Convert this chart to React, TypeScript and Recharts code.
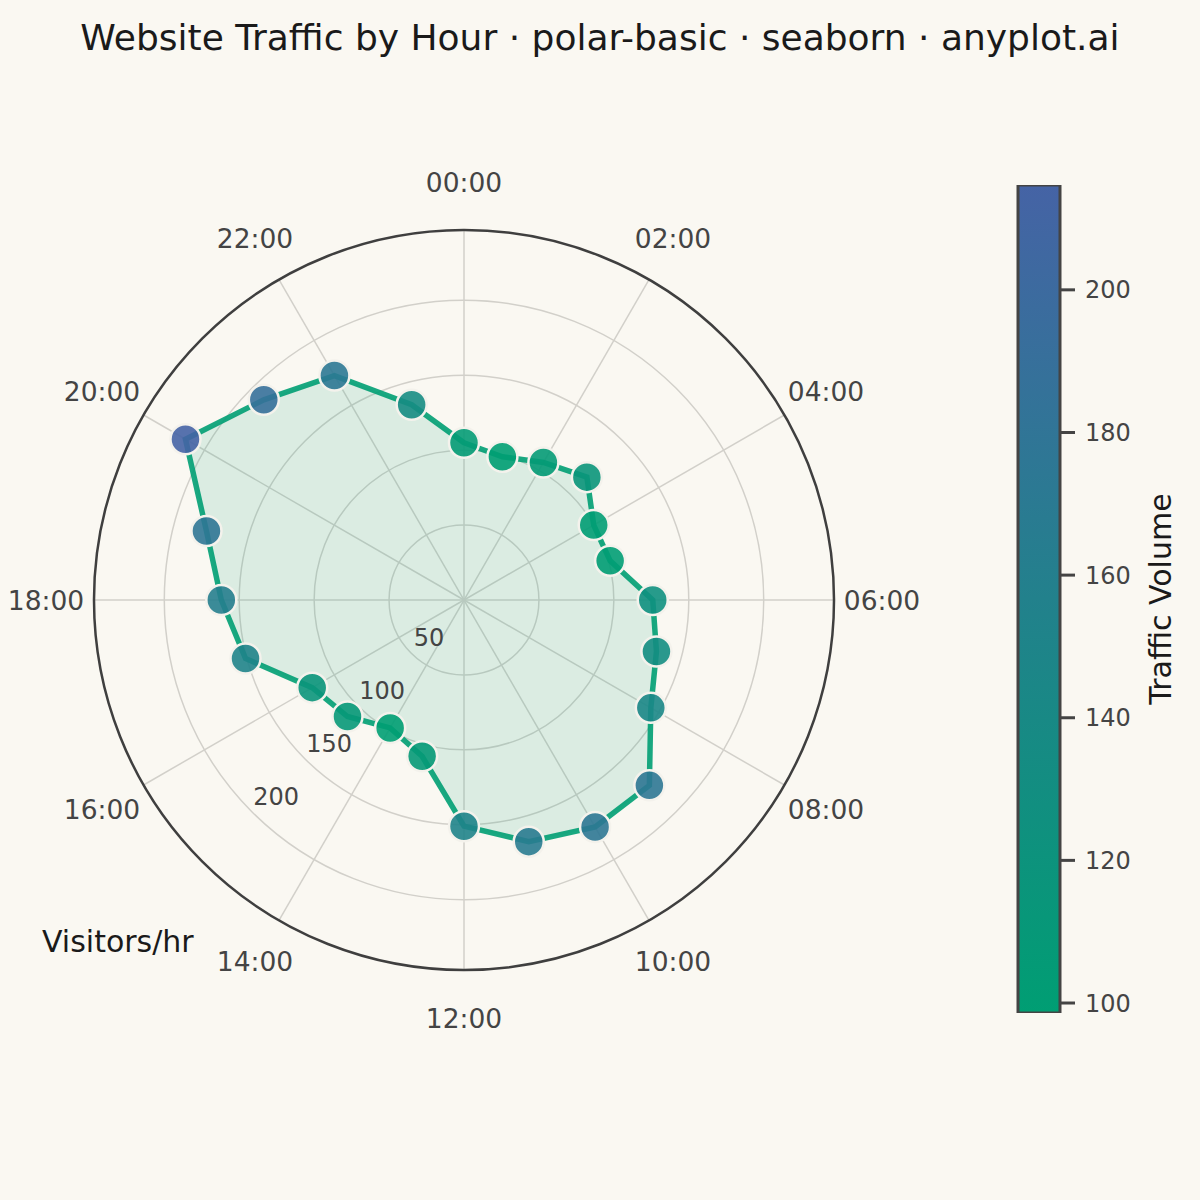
import {
  RadarChart,
  Radar,
  PolarGrid,
  PolarAngleAxis,
  PolarRadiusAxis,
  BarChart,
  Bar,
  XAxis,
  YAxis,
} from 'recharts'

const HOURS = [
  '00:00', '01:00', '02:00', '03:00', '04:00', '05:00',
  '06:00', '07:00', '08:00', '09:00', '10:00', '11:00',
  '12:00', '13:00', '14:00', '15:00', '16:00', '17:00',
  '18:00', '19:00', '20:00', '21:00', '22:00', '23:00',
]
const VISITORS = [
  105, 99, 106, 116, 100, 101, 126, 133, 144, 175, 175, 167,
  151, 108, 98.6, 110, 117, 151, 162, 178, 214.7, 189, 173, 135,
]
const RADIAL_TICKS = [50, 100, 150, 200]
const CB_TICKS = [100, 120, 140, 160, 180, 200]

const BG = '#FAF8F2'
const FONT = '"DejaVu Sans", sans-serif'
const LOW = [0, 158, 115]
const HIGH = [69, 99, 165]

const CB_MIN = Math.min(...VISITORS)
const CB_MAX = Math.max(...VISITORS)
const RMAX = CB_MAX * 1.15
const OUTER = 370
const CX = 464
const CY = 600
const LABEL_R = 418

const data = HOURS.map((hour, i) => ({ hour, visitors: VISITORS[i] }))
const cbData = [{ k: 'cb', range: [CB_MIN, CB_MAX] }]

function colorFor(v: number) {
  const t = Math.max(0, Math.min(1, (v - CB_MIN) / (CB_MAX - CB_MIN)))
  const c = LOW.map((l, i) => Math.round(l + (HIGH[i] - l) * t))
  return `rgb(${c[0]},${c[1]},${c[2]})`
}

// spokes every 2 hours, circles at the radial ticks
const spokeAngles = HOURS.map((_, i) => 90 - i * 15).filter((_, i) => i % 2 === 0)
const gridRadii = RADIAL_TICKS.map((v) => (v / RMAX) * OUTER)

function AngleTick(props: any) {
  const { payload, index } = props
  if (index % 2 !== 0) return <g />
  const cx = typeof props.cx === 'number' ? props.cx : CX
  const cy = typeof props.cy === 'number' ? props.cy : CY
  const rad = (-payload.coordinate * Math.PI) / 180
  return (
    <text
      x={cx + LABEL_R * Math.cos(rad)}
      y={cy + LABEL_R * Math.sin(rad)}
      textAnchor="middle"
      dominantBaseline="central"
      fontSize={26.5}
      fill="#444444"
      fontFamily={FONT}
    >
      {payload.value}
    </text>
  )
}

function RadiusTick(props: any) {
  const { x, y, payload } = props
  if (!RADIAL_TICKS.includes(payload.value)) return <g />
  const dx = payload.value === 50 ? 18 : 24
  return (
    <text
      x={x + dx}
      y={y - 15}
      textAnchor="middle"
      dominantBaseline="central"
      fontSize={24}
      fill="#444444"
      fontFamily={FONT}
    >
      {payload.value}
    </text>
  )
}

function Dot(props: any) {
  const { cx, cy, payload, index } = props
  return (
    <circle
      key={`dot-${index}`}
      cx={cx}
      cy={cy}
      r={15}
      fill={colorFor(payload.visitors)}
      fillOpacity={0.9}
      stroke="#F4F2EC"
      strokeWidth={2.5}
    />
  )
}

function CbLabel(props: any) {
  const vb = props.viewBox || {}
  const x = (vb.x ?? 0) + 100
  const y = (vb.y ?? 0) + (vb.height ?? 0) / 2
  return (
    <text
      x={x}
      y={y}
      transform={`rotate(-90 ${x} ${y})`}
      textAnchor="middle"
      dominantBaseline="central"
      fontSize={30}
      fill="#1a1a1a"
      fontFamily={FONT}
    >
      Traffic Volume
    </text>
  )
}

export default function App() {
  return (
    <div style={{ width: 1200, height: 1200, background: BG, position: 'relative', fontFamily: FONT }}>
      <style>{'body{margin:0}'}</style>
      <div
        style={{
          position: 'absolute',
          top: 17,
          left: 0,
          width: 1200,
          textAlign: 'center',
          fontSize: 36,
          color: '#1a1a1a',
          whiteSpace: 'nowrap',
        }}
      >
        Website Traffic by Hour · polar-basic · seaborn · anyplot.ai
      </div>

      <div style={{ position: 'absolute', left: 0, top: 0 }}>
        <RadarChart
          width={CX * 2}
          height={CY * 2}
          data={data}
          outerRadius={OUTER}
          margin={{ top: 0, right: 0, bottom: 0, left: 0 }}
        >
          <PolarGrid
            gridType="circle"
            polarAngles={spokeAngles}
            polarRadius={gridRadii}
            stroke="#d2d0ca"
            strokeWidth={1.5}
          />
          <PolarGrid
            gridType="circle"
            radialLines={false}
            polarAngles={[]}
            polarRadius={[OUTER]}
            stroke="#3f3f3f"
            strokeWidth={2.5}
          />
          <PolarAngleAxis dataKey="hour" tick={<AngleTick />} axisLine={false} tickLine={false} />
          <PolarRadiusAxis
            type="number"
            angle={225}
            domain={[0, RMAX]}
            ticks={RADIAL_TICKS}
            allowDataOverflow
            axisLine={false}
            tickLine={false}
            tick={<RadiusTick />}
          />
          <Radar
            dataKey="visitors"
            stroke="#009E73"
            strokeOpacity={0.9}
            strokeWidth={5.5}
            fill="#009E73"
            fillOpacity={0.12}
            dot={Dot}
            isAnimationActive={false}
          />
        </RadarChart>
      </div>

      <div
        style={{
          position: 'absolute',
          left: 42,
          top: 924,
          fontSize: 30,
          color: '#1a1a1a',
          whiteSpace: 'nowrap',
        }}
      >
        Visitors/hr
      </div>

      <div style={{ position: 'absolute', left: 1016, top: 163 }}>
        <BarChart
          width={176}
          height={872}
          data={cbData}
          margin={{ top: 22, right: 0, bottom: 22, left: 2 }}
          barCategoryGap={0}
          barGap={0}
        >
          <defs>
            <linearGradient id="cbGrad" x1="0" y1="0" x2="0" y2="1">
              {[0, 0.25, 0.5, 0.75, 1].map((o) => (
                <stop key={o} offset={o} stopColor={colorFor(CB_MAX - o * (CB_MAX - CB_MIN))} />
              ))}
            </linearGradient>
          </defs>
          <XAxis dataKey="k" type="category" hide />
          <YAxis
            orientation="right"
            type="number"
            domain={[CB_MIN, CB_MAX]}
            ticks={CB_TICKS}
            interval={0}
            allowDataOverflow
            width={132}
            axisLine={false}
            tickSize={15}
            tickMargin={10}
            tickLine={{ stroke: '#444444', strokeWidth: 3 }}
            tick={{ fontSize: 24, fill: '#444444', fontFamily: FONT }}
            label={<CbLabel />}
          />
          <Bar
            dataKey="range"
            fill="url(#cbGrad)"
            stroke="#444444"
            strokeWidth={3}
            isAnimationActive={false}
          />
        </BarChart>
      </div>
    </div>
  )
}
